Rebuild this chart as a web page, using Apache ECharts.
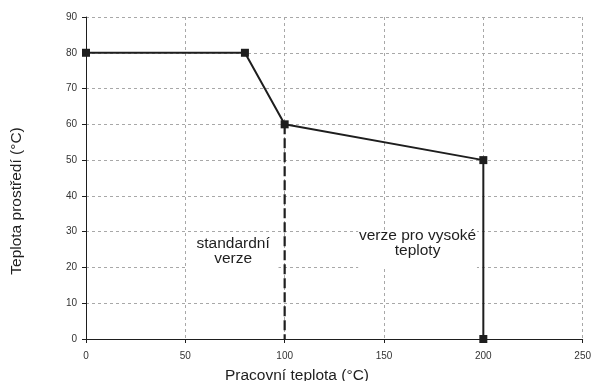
<!DOCTYPE html>
<html>
<head>
<meta charset="utf-8">
<script src="https://cdn.jsdelivr.net/npm/echarts@6/dist/echarts.min.js"></script>
<style>
html,body{margin:0;padding:0;background:#fff;}
#chart{width:594px;height:381px;}
</style>
</head>
<body>
<div id="chart"></div>
<script>
// Data
const limitX = [0, 80, 100, 200, 200];
const limitY = [80, 80, 60, 50, 0];
const dividerX = [100, 100];
const dividerY = [60, 0];
const xTitle = 'Pracovní teplota (°C)';
const yTitle = 'Teplota prostředí (°C)';
const noteStandard = 'standardní\nverze';
const noteHigh = 'verze pro vysoké\nteploty';

const FONT = '"Liberation Sans", Arial, sans-serif';
const INK = '#1e1e1e';

const chart = echarts.init(document.getElementById('chart'), null, {renderer: 'canvas'});

const option = {
  animation: false,
  backgroundColor: '#fff',
  textStyle: {fontFamily: FONT},
  grid: {left: 86, right: 10, top: 17, bottom: 42, containLabel: false},
  xAxis: {
    type: 'value', min: 0, max: 250, interval: 50,
    axisLine: {show: true, onZero: false, lineStyle: {color: INK, width: 1}},
    axisTick: {show: true, length: 4, inside: false, lineStyle: {color: INK}},
    axisLabel: {fontSize: 10, color: '#333', margin: 12, fontFamily: FONT},
    splitLine: {show: true, showMinLine: false, lineStyle: {color: '#a8a8a8', width: 1, type: [3, 3]}}
  },
  yAxis: {
    type: 'value', min: 0, max: 90, interval: 10,
    axisLine: {show: true, onZero: false, lineStyle: {color: INK, width: 1}},
    axisTick: {show: true, length: 4, inside: false, lineStyle: {color: INK}},
    axisLabel: {fontSize: 10, color: '#333', margin: 9, fontFamily: FONT},
    splitLine: {show: true, showMinLine: false, lineStyle: {color: '#a8a8a8', width: 1, type: [3, 3]}}
  },
  graphic: [
    {type: 'text', left: 'center', x: 287, y: 376,
     style: {text: xTitle, font: '15.5px ' + FONT, fill: INK, textAlign: 'center', textVerticalAlign: 'middle'}},
    {type: 'text', x: 17, y: 201, rotation: Math.PI / 2,
     style: {text: yTitle, font: '15.5px ' + FONT, fill: INK, textAlign: 'center', textVerticalAlign: 'middle'}}
  ],
  series: [
    {
      type: 'line', z: 1, data: [], silent: true,
      markArea: {
        silent: true,
        itemStyle: {color: '#ffffff', opacity: 1},
        label: {show: true, position: 'inside', color: INK, fontSize: 15.5, lineHeight: 14.5, fontFamily: FONT, align: 'center'},
        data: [
          [{xAxis: 51.2, yAxis: 28.8, label: {formatter: noteStandard, offset: [0, -1]}}, {xAxis: 96.9, yAxis: 19.8}],
          [{xAxis: 137, yAxis: 30.3, label: {formatter: noteHigh, offset: [0, -6]}}, {xAxis: 196.8, yAxis: 19.8}]
        ]
      }
    },
    {
      type: 'line', z: 3,
      data: dividerX.map((x, i) => [x, dividerY[i]]),
      showSymbol: false, symbol: 'none',
      lineStyle: {color: INK, width: 2.2, type: [10, 4]}
    },
    {
      type: 'line', z: 4,
      data: limitX.map((x, i) => [x, limitY[i]]),
      symbol: 'rect', symbolSize: 8,
      itemStyle: {color: INK},
      lineStyle: {color: INK, width: 2},
      clip: false
    }
  ]
};
chart.setOption(option);
</script>
</body>
</html>
